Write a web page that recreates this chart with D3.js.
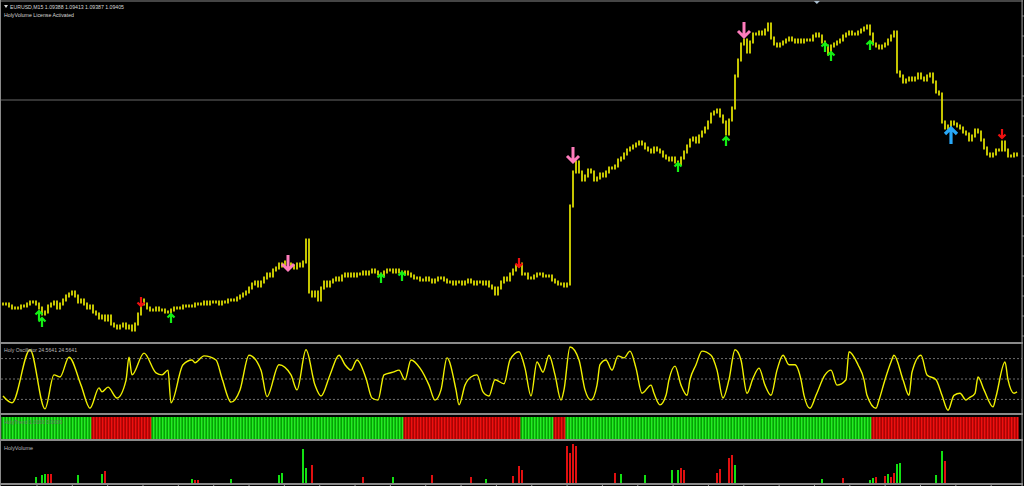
<!DOCTYPE html>
<html>
<head>
<meta charset="utf-8">
<script src="https://cdn.jsdelivr.net/npm/d3@7"></script>
<style>
  body { margin: 0; background: #000; overflow: hidden; }
  svg { display: block; }
  text { font-family: "Liberation Sans", Arial, sans-serif; font-size: 6px; }
</style>
</head>
<body>
<svg id="chart" width="1024" height="486"></svg>
<script>
var width = 1024;
var height = 486;

// EURUSD M15 closes, one per bar (open = previous close)
var closes = [
  1.0866,1.0866,1.0865,1.0864,1.0864,1.0864,1.0865,1.0865,1.0866,1.0867,1.0867,1.0866,
  1.0864,1.0861,1.0862,1.0865,1.0866,1.0867,1.0864,1.0866,1.0868,1.0870,1.0871,1.0872,
  1.0870,1.0867,1.0868,1.0866,1.0864,1.0865,1.0862,1.0861,1.0859,1.0860,1.0858,1.0860,
  1.0856,1.0855,1.0854,1.0855,1.0856,1.0854,1.0855,1.0853,1.0856,1.0861,1.0868,1.0866,
  1.0864,1.0863,1.0863,1.0864,1.0863,1.0863,1.0862,1.0862,1.0863,1.0864,1.0864,1.0864,
  1.0865,1.0865,1.0865,1.0865,1.0866,1.0866,1.0866,1.0867,1.0866,1.0867,1.0867,1.0867,
  1.0866,1.0867,1.0867,1.0868,1.0868,1.0868,1.0869,1.0870,1.0871,1.0872,1.0874,1.0876,
  1.0877,1.0875,1.0877,1.0879,1.0881,1.0880,1.0883,1.0884,1.0886,1.0885,1.0887,1.0886,
  1.0885,1.0884,1.0886,1.0885,1.0887,1.0898,1.0872,1.0870,1.0872,1.0868,1.0874,1.0877,
  1.0875,1.0877,1.0878,1.0879,1.0878,1.0880,1.0881,1.0880,1.0881,1.0880,1.0881,1.0881,
  1.0882,1.0881,1.0882,1.0883,1.0882,1.0881,1.0880,1.0882,1.0883,1.0883,1.0882,1.0883,
  1.0882,1.0881,1.0882,1.0881,1.0880,1.0879,1.0879,1.0878,1.0878,1.0879,1.0878,1.0877,
  1.0878,1.0879,1.0879,1.0878,1.0877,1.0877,1.0876,1.0877,1.0877,1.0876,1.0877,1.0878,
  1.0877,1.0876,1.0877,1.0877,1.0876,1.0877,1.0875,1.0874,1.0871,1.0874,1.0877,1.0879,
  1.0878,1.0881,1.0883,1.0885,1.0886,1.0881,1.0881,1.0879,1.0879,1.0880,1.0881,1.0881,
  1.0880,1.0880,1.0880,1.0878,1.0877,1.0876,1.0876,1.0875,1.0876,1.0915,1.0932,1.0937,
  1.0932,1.0928,1.0930,1.0933,1.0932,1.0928,1.0929,1.0931,1.0930,1.0932,1.0934,1.0934,
  1.0935,1.0938,1.0939,1.0941,1.0943,1.0944,1.0945,1.0946,1.0947,1.0946,1.0944,1.0943,
  1.0942,1.0944,1.0943,1.0942,1.0940,1.0939,1.0938,1.0939,1.0937,1.0936,1.0939,1.0942,
  1.0945,1.0948,1.0949,1.0947,1.0950,1.0952,1.0954,1.0957,1.0961,1.0962,1.0963,1.0960,
  1.0957,1.0951,1.0958,1.0964,1.0980,1.0988,1.0996,1.0998,1.0992,1.0997,1.1001,1.1001,
  1.1002,1.1001,1.1003,1.1006,1.0999,1.0996,1.0995,1.0996,1.0997,1.0998,1.0999,1.0998,
  1.0997,1.0998,1.0997,1.0998,1.0998,1.0998,1.1000,1.1001,1.1000,1.0997,1.0995,1.0991,
  1.0995,1.0996,1.0997,1.0998,1.1000,1.1001,1.1002,1.1001,1.1001,1.1002,1.1003,1.1004,
  1.1005,1.1001,1.0996,1.0995,1.0994,1.0995,1.0996,1.0998,1.1000,1.1002,1.0982,1.0980,
  1.0977,1.0978,1.0979,1.0978,1.0979,1.0981,1.0979,1.0978,1.0980,1.0981,1.0977,1.0972,
  1.0971,1.0957,1.0954,1.0955,1.0957,1.0956,1.0955,1.0954,1.0952,1.0951,1.0948,1.0950,
  1.0953,1.0952,1.0948,1.0944,1.0941,1.0940,1.0941,1.0943,1.0943,1.0947,1.0943,1.0940,
  1.0940,1.0941,1.09405
];
var levelLine = 1.0968;

// signal arrows: bar index + price of the arrow tip
var buyBars = [12, 13, 56, 126, 133, 225, 241, 274, 276, 289];
var buyPrices = [1.08625, 1.0859, 1.0861, 1.0881, 1.0882, 1.09365, 1.09495, 1.09965, 1.0992, 1.09975];
var sellBars = [46, 172, 333];
var sellPrices = [1.0865, 1.08845, 1.0949];
var bigSellBars = [95, 190, 247];
var bigSellPrices = [1.0883, 1.0937, 1.09995];
var bigBuyBars = [316];
var bigBuyPrices = [1.0954];

// Holy Oscillator, read at its turning points
var oscBars = [
  0,3,9,14,17,19,22,26,29,32, 33,35,38,41,42,43,47,51,53,55,
  56,60,63,64,67,71,73,76,79,82, 86,88,92,96,98,101,104,106,109,112,
  114,116,118,121,123,125,127,130,132,134, 136,139,142,144,146,148,151,152,154,156,
  158,160,162,164,167,169,172,174,176,178, 180,182,184,186,187,189,192,194,196,198,
  199,201,203,205,207,209,211,213,216,217, 219,221,222,224,226,228,229,231,233,236,
  238,240,242,244,246,248,250,252,254,256, 258,260,262,264,266,267,269,271,274,276,
  278,281,282,285,287,288,291,292,294,296, 297,300,302,303,306,308,311,313,315,317,
  319,321,322,324,325,327,330,331,334,335, 337,338
];
var oscValues = [
  25,15,93,6,56,53,82,41,7,37, 31,38,22,48,82,56,88,59,56,63,
  15,71,78,74,84,78,51,16,34,85, 63,24,71,56,34,93,41,25,56,85,
  71,63,78,51,22,19,56,60,63,49, 78,66,41,19,34,81,34,12,41,53,
  56,31,25,49,43,78,90,66,25,75, 60,85,56,19,34,97,78,34,19,41,
  71,78,63,84,81,91,66,29,41,29, 12,26,49,69,41,26,49,71,91,85,
  63,22,49,93,78,29,51,66,41,26, 63,85,71,71,49,26,7,26,56,63,
  41,49,90,71,49,26,7,19,49,75, 85,49,26,60,85,56,49,26,4,26,
  29,19,22,29,53,34,9,24,75,49, 29,31
];
var oscLevels = [80, 50, 20];

// HolyTrend: bar where each run starts and its direction
var trendStarts = [0, 30, 50, 134, 173, 184, 188, 290];
var trendDirs = [1, -1, 1, -1, 1, -1, 1, -1];

// HolyVolume spikes (+ buy / - sell)
var volBars = [11,13,14,15,16,25,33,34,63,64,65,76,92,93,100,101,103,120,130,143,156,161,
  170,172,173,188,189,190,191,204,206,214,223,225,226,227,238,239,242,243,244,
  273,280,289,290,291,294,295,296,297,298,299,311,313,314];
var volValues = [6,8,9,-9,-9,8,9,-12,4,-3,-3,4,8,10,34,15,-18,-6,6,-8,-6,4,
  -7,-17,-13,-37,-30,-39,-37,-10,9,8,13,13,-15,-13,-10,-14,-25,-28,18,
  4,-5,3,5,-6,-7,9,-6,-10,19,20,8,32,-22];

var headerText = "EURUSD,M15  1.09388 1.09413 1.09387 1.09405";
var licenseText = "HolyVolume License Activated";
var oscText = "Holy Oscillator 24.5641 24.5641";
var trendText = "HolyTrend 1.0000 0.0000";
var volText = "HolyVolume";

var x = d3.scaleLinear().domain([0, closes.length - 1]).range([3, 1017]);
var yPrice = d3.scaleLinear().domain([1.0850, 1.1010]).range([336, 16]);
var yOsc = d3.scaleLinear().domain([0, 100]).range([413, 345]);
var yVol = d3.scaleLinear().domain([0, 40]).range([483, 443]);

var svg = d3.select("#chart");
svg.append("rect").attr("width", width).attr("height", height).attr("fill", "#000");

// ---- main price panel
svg.append("line")
  .attr("x1", 1).attr("x2", 1022)
  .attr("y1", yPrice(levelLine)).attr("y2", yPrice(levelLine))
  .attr("stroke", "#686868").attr("stroke-width", 1);

var bars = closes.map(function(c, i) {
  return { i: i, o: i ? closes[i - 1] : c, c: c };
});
svg.append("g").selectAll("line").data(bars).join("line")
  .attr("x1", function(d) { return x(d.i); })
  .attr("x2", function(d) { return x(d.i); })
  .attr("y1", function(d) { return yPrice(Math.max(d.o, d.c)) - 1.5; })
  .attr("y2", function(d) { return yPrice(Math.min(d.o, d.c)) + 1.5; })
  .attr("stroke", "#e8e800").attr("stroke-width", 1.7);

function arrowPath(cx, tip, dir, w, h) {
  // dir 1: points up, tail below; dir -1: points down, tail above
  var p = d3.path();
  p.moveTo(cx, tip + dir * h);
  p.lineTo(cx, tip + dir);
  p.moveTo(cx - w / 2, tip + dir * w / 2);
  p.lineTo(cx, tip);
  p.lineTo(cx + w / 2, tip + dir * w / 2);
  return p.toString();
}
function drawArrows(barsIdx, prices, dir, w, h, sw, color) {
  svg.append("g").selectAll("path").data(barsIdx).join("path")
    .attr("d", function(b, k) { return arrowPath(x(b), yPrice(prices[k]), dir, w, h); })
    .attr("fill", "none").attr("stroke", color).attr("stroke-width", sw)
    .attr("stroke-linejoin", "miter");
}
drawArrows(buyBars, buyPrices, 1, 7, 9, 2.2, "#14f014");
drawArrows(sellBars, sellPrices, -1, 7, 9, 2.2, "#f01010");
drawArrows(bigSellBars, bigSellPrices, -1, 12, 15, 3, "#ff7cbc");
drawArrows(bigBuyBars, bigBuyPrices, 1, 12, 16, 3.2, "#28a8f8");

// ---- oscillator panel
svg.append("g").selectAll("line").data(oscLevels).join("line")
  .attr("x1", 1).attr("x2", 1022)
  .attr("y1", function(d) { return yOsc(d); }).attr("y2", function(d) { return yOsc(d); })
  .attr("stroke", "#707070").attr("stroke-dasharray", "2,2");

var oscLine = d3.line()
  .x(function(d) { return x(d[0]); })
  .y(function(d) { return yOsc(d[1]); })
  .curve(d3.curveMonotoneX);
svg.append("path")
  .datum(oscBars.map(function(b, k) { return [b, oscValues[k]]; }))
  .attr("d", oscLine)
  .attr("fill", "none").attr("stroke", "#f0f000").attr("stroke-width", 1.4);

// ---- trend stripe panel
var trend = closes.map(function(c, i) {
  var k = d3.bisectRight(trendStarts, i) - 1;
  return { i: i, dir: trendDirs[k] };
});
var stripe = svg.append("g");
stripe.selectAll("rect").data(trend).join("rect")
  .attr("x", function(d) { return x(d.i) - 1.5; })
  .attr("width", 3.05)
  .attr("y", 417).attr("height", 22)
  .attr("fill", function(d) { return d.dir > 0 ? "#22ee22" : "#f01010"; });
stripe.selectAll("line").data(trend).join("line")
  .attr("x1", function(d) { return x(d.i) - 0.5; })
  .attr("x2", function(d) { return x(d.i) - 0.5; })
  .attr("y1", 417).attr("y2", 439)
  .attr("stroke", function(d) { return d.dir > 0 ? "#00a800" : "#b00000"; });

// ---- volume panel
svg.append("g").selectAll("rect").data(volBars).join("rect")
  .attr("x", function(b) { return x(b) - 1; })
  .attr("width", 2)
  .attr("y", function(b, k) { return yVol(Math.abs(volValues[k])); })
  .attr("height", function(b, k) { return yVol(0) - yVol(Math.abs(volValues[k])); })
  .attr("fill", function(b, k) { return volValues[k] > 0 ? "#12e012" : "#e01010"; });

// ---- frame, separators, axes
var grey = "#8a8a8a";
svg.append("rect").attr("x", 0).attr("y", 0.5).attr("width", 1023).attr("height", 1).attr("fill", grey);
svg.append("rect").attr("x", 0).attr("y", 0).attr("width", 1).attr("height", 486).attr("fill", grey);
svg.append("rect").attr("x", 1021.5).attr("y", 0).attr("width", 1.2).attr("height", 486).attr("fill", grey);
[342, 413, 439, 483].forEach(function(yy) {
  svg.append("rect").attr("x", 0).attr("y", yy).attr("width", 1023).attr("height", 2).attr("fill", grey);
});

// price ticks on the right edge
svg.append("g").selectAll("line").data(yPrice.ticks(16)).join("line")
  .attr("x1", 1022).attr("x2", 1024)
  .attr("y1", function(d) { return yPrice(d); }).attr("y2", function(d) { return yPrice(d); })
  .attr("stroke", grey);

// time ticks along the bottom
var timeTicks = d3.range(11.33, closes.length, 11.78);
svg.append("g").selectAll("line").data(timeTicks).join("line")
  .attr("x1", function(d) { return x(d); }).attr("x2", function(d) { return x(d); })
  .attr("y1", 485).attr("y2", 487)
  .attr("stroke", "#a0a0a0");

// chart shift marker
svg.append("path")
  .attr("d", "M" + (x(271.3) - 3) + ",1 L" + (x(271.3) + 3) + ",1 L" + x(271.3) + ",4 Z")
  .attr("fill", "#a8bccc");

// ---- texts
svg.append("path").attr("d", "M4,5 L8,5 L6,8 Z").attr("fill", "#d8d8d8");
svg.append("text").attr("x", 10).attr("y", 8.6).attr("fill", "#d8d8d8")
  .attr("textLength", 114).attr("lengthAdjust", "spacingAndGlyphs").text(headerText);
svg.append("text").attr("x", 4).attr("y", 16.8).attr("fill", "#d8d8d8")
  .attr("textLength", 70).attr("lengthAdjust", "spacingAndGlyphs").text(licenseText);
svg.append("text").attr("x", 4).attr("y", 351.6).attr("fill", "#b8b8b8")
  .attr("textLength", 73).attr("lengthAdjust", "spacingAndGlyphs").text(oscText);
svg.append("text").attr("x", 4).attr("y", 423.6).attr("fill", "#707070")
  .attr("textLength", 58).attr("lengthAdjust", "spacingAndGlyphs").text(trendText);
svg.append("text").attr("x", 4).attr("y", 449.6).attr("fill", "#b8b8b8")
  .attr("textLength", 29).attr("lengthAdjust", "spacingAndGlyphs").text(volText);
</script>
</body>
</html>
